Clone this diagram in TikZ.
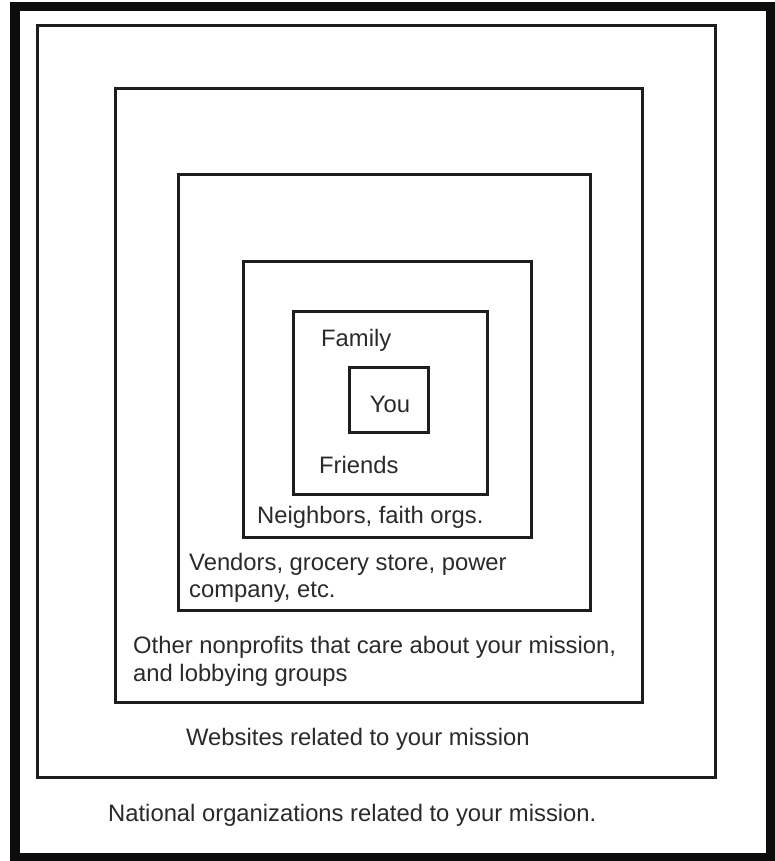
\documentclass[tikz,border=0pt]{standalone}
\usepackage{fontspec}
\setmainfont{Liberation Sans}
\definecolor{ink}{HTML}{1E1E1E}
\definecolor{txt}{HTML}{2A2A2A}
\tikzset{
  ringbox/.style={draw=ink, line width=3pt},
  lbl/.style={anchor=base west, inner sep=0pt, text=txt, font=\fontsize{23.8}{26.5}\selectfont, align=left},
}
\begin{document}
\begin{tikzpicture}[x=1pt,y=-1pt]
\useasboundingbox (0,0) rectangle (775,861);
% outer black frame
\fill[black!95] (10,2) rectangle (775,861);
\fill[white] (20,11) rectangle (766,853);
% nested boxes
\draw[ringbox] (37,26) rectangle (715,777);
\draw[ringbox] (115,89) rectangle (642,702);
\draw[ringbox] (178,175) rectangle (590,610);
\draw[ringbox] (243,261) rectangle (531,537);
\draw[ringbox] (293,311) rectangle (487,494);
\draw[ringbox] (349,367) rectangle (428,432);
% labels
\node[lbl] (family) at (321,346) {Family};
\node[lbl, anchor=base] (you) at (390,412) {You};
\node[lbl] (friends) at (319,473) {Friends};
\node[lbl] (neigh) at (257,523) {Neighbors, faith orgs.};
\node[lbl] (vend) at (189,597) {Vendors, grocery store, power\\company, etc.};
\node[lbl, font=\fontsize{23.8}{28}\selectfont] (other) at (133,681) {Other nonprofits that care about your mission,\\and lobbying groups};
\node[lbl] (web) at (186,745) {Websites related to your mission};
\node[lbl] (nat) at (108,821) {National organizations related to your mission.};
\end{tikzpicture}
\end{document}
